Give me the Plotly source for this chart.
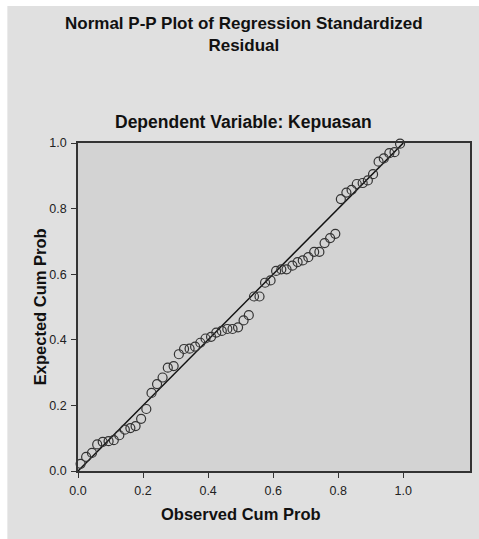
import plotly.graph_objects as go

observed_cum_prob = [
    0.008, 0.025, 0.043, 0.059, 0.076, 0.094, 0.110, 0.127, 0.144, 0.161,
    0.177, 0.194, 0.210, 0.226, 0.243, 0.260, 0.276, 0.294, 0.310, 0.326,
    0.343, 0.360, 0.376, 0.392, 0.409, 0.425, 0.442, 0.459, 0.475, 0.492,
    0.509, 0.525, 0.541, 0.558, 0.575, 0.592, 0.609, 0.625, 0.641, 0.659,
    0.675, 0.691, 0.708, 0.726, 0.742, 0.758, 0.775, 0.791, 0.808, 0.825,
    0.841, 0.857, 0.875, 0.891, 0.907, 0.924, 0.940, 0.957, 0.973, 0.990,
]
expected_cum_prob = [
    0.022, 0.043, 0.055, 0.081, 0.089, 0.091, 0.094, 0.109, 0.126, 0.131,
    0.137, 0.159, 0.189, 0.238, 0.265, 0.285, 0.315, 0.320, 0.356, 0.372,
    0.373, 0.379, 0.391, 0.404, 0.409, 0.422, 0.427, 0.433, 0.433, 0.438,
    0.459, 0.475, 0.532, 0.532, 0.574, 0.581, 0.610, 0.615, 0.615, 0.626,
    0.637, 0.642, 0.652, 0.668, 0.668, 0.695, 0.710, 0.723, 0.829, 0.849,
    0.857, 0.875, 0.878, 0.886, 0.905, 0.943, 0.953, 0.969, 0.972, 0.998,
]
reference_line = [0.0, 1.0]
tick_values = [0.0, 0.2, 0.4, 0.6, 0.8, 1.0]
tick_labels = ["0.0", "0.2", "0.4", "0.6", "0.8", "1.0"]

W, H = 479, 539
ML, MR, MT, MB = 78, 7, 143, 68
PW, PH = W - ML - MR, H - MT - MB


def px_x(p):
    return (p - ML) / PW


def px_y(p):
    return (H - MB - p) / PH


fig = go.Figure()
fig.add_trace(go.Scatter(
    x=reference_line, y=reference_line, mode="lines",
    line=dict(color="#111111", width=1.5), hoverinfo="skip", showlegend=False,
))
fig.add_trace(go.Scatter(
    x=observed_cum_prob, y=expected_cum_prob, mode="markers",
    marker=dict(symbol="circle-open", size=9, color="#333333",
                line=dict(width=1.2, color="#333333")),
    showlegend=False, cliponaxis=False,
))

font = "Liberation Sans, Arial, sans-serif"
axis_common = dict(
    showgrid=False, zeroline=False, showline=True, linecolor="#333333",
    linewidth=1.5, mirror=True, ticks="outside", ticklen=5, tickwidth=1,
    tickcolor="#333333", tickvals=tick_values, ticktext=tick_labels,
    ticklabelstandoff=2,
    tickfont=dict(family=font, size=12.5, color="#222222"),
)

fig.update_layout(
    width=W, height=H,
    margin=dict(l=ML, r=MR, t=MT, b=MB, pad=0),
    paper_bgcolor="#e0e0e0", plot_bgcolor="#d3d3d3",
    xaxis=dict(range=[0, 1.205], **axis_common),
    yaxis=dict(range=[0, 1.0], **axis_common),
    shapes=[
        dict(type="rect", xref="paper", yref="paper", layer="below",
             x0=px_x(-5), x1=px_x(7), y0=px_y(H + 5), y1=px_y(-5),
             fillcolor="white", line=dict(width=0)),
        dict(type="rect", xref="paper", yref="paper", layer="below",
             x0=px_x(-5), x1=px_x(W + 5), y0=px_y(6), y1=px_y(-5),
             fillcolor="white", line=dict(width=0)),
    ],
    annotations=[
        dict(text="<b>Normal P-P Plot of Regression Standardized<br>Residual</b>",
             xref="paper", yref="paper", x=px_x(245), y=px_y(35),
             xanchor="center", yanchor="middle", showarrow=False,
             font=dict(family=font, size=17, color="#111111")),
        dict(text="<b>Dependent Variable: Kepuasan</b>",
             xref="paper", yref="paper", x=px_x(244), y=px_y(122),
             xanchor="center", yanchor="middle", showarrow=False,
             font=dict(family=font, size=17.5, color="#111111")),
        dict(text="<b>Observed Cum Prob</b>",
             xref="x", yref="paper", x=0.5, y=px_y(514),
             xanchor="center", yanchor="middle", showarrow=False,
             font=dict(family=font, size=16.5, color="#111111")),
        dict(text="<b>Expected Cum Prob</b>", textangle=-90,
             xref="paper", yref="y", x=px_x(40), y=0.5,
             xanchor="center", yanchor="middle", showarrow=False,
             font=dict(family=font, size=16.5, color="#111111")),
    ],
)

fig.write_html(
    "out.html",
    config={"displayModeBar": False},
    post_script="document.body.style.margin='0';"
                "document.documentElement.style.overflow='hidden';",
)
